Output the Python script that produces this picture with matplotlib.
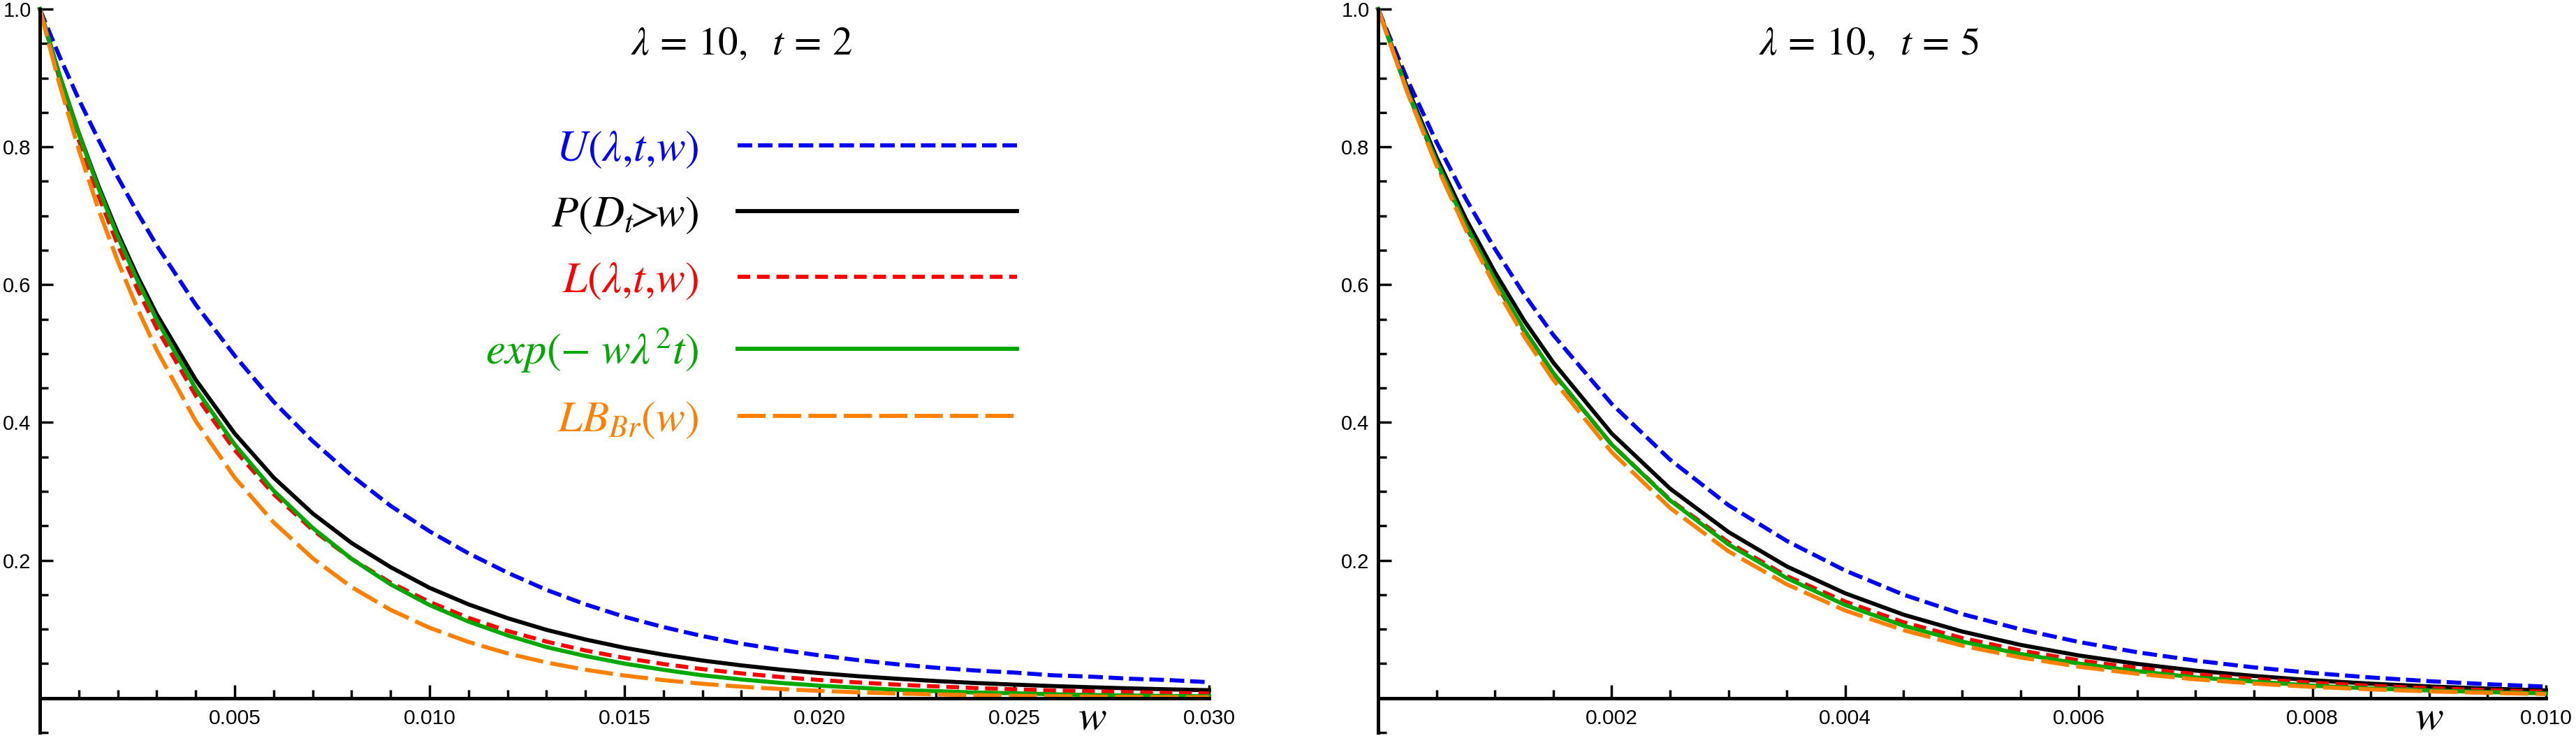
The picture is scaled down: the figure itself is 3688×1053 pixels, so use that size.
import numpy as np
import matplotlib
matplotlib.use('Agg')
import matplotlib.pyplot as plt
from matplotlib.ticker import FixedLocator, MultipleLocator, FuncFormatter

# values
w_left = [0, 0.0005, 0.001, 0.0015, 0.002, 0.0025, 0.003, 0.004, 0.005, 0.006,
          0.007, 0.008, 0.009, 0.010, 0.011, 0.012, 0.013, 0.014, 0.015, 0.016,
          0.017, 0.018, 0.019, 0.020, 0.021, 0.022, 0.023, 0.024, 0.025, 0.026,
          0.027, 0.028, 0.029, 0.030]
upper_left = [1.000, 0.932, 0.869, 0.811, 0.756, 0.705, 0.657, 0.571, 0.497, 0.430,
              0.373, 0.323, 0.279, 0.242, 0.210, 0.182, 0.157, 0.136, 0.118, 0.103,
              0.090, 0.079, 0.070, 0.062, 0.055, 0.049, 0.044, 0.040, 0.037, 0.033,
              0.031, 0.028, 0.026, 0.023]
exact_left = [1.000, 0.905, 0.820, 0.744, 0.675, 0.613, 0.557, 0.462, 0.384, 0.320,
              0.268, 0.225, 0.190, 0.160, 0.136, 0.116, 0.099, 0.085, 0.073, 0.063,
              0.0545, 0.0474, 0.0413, 0.0362, 0.0317, 0.0280, 0.0247, 0.0219, 0.0195, 0.0174,
              0.0156, 0.0140, 0.0126, 0.0114]
lower_left = [1.000, 0.900, 0.810, 0.730, 0.658, 0.594, 0.537, 0.439, 0.360, 0.296,
              0.244, 0.202, 0.1675, 0.1395, 0.1164, 0.0975, 0.0819, 0.0690, 0.0583, 0.0494,
              0.0420, 0.0358, 0.0306, 0.0262, 0.0226, 0.0195, 0.0169, 0.0146, 0.0127, 0.0111,
              0.0098, 0.0086, 0.0075, 0.0067]
expo_left = [1.000, 0.905, 0.819, 0.741, 0.670, 0.607, 0.549, 0.449, 0.368, 0.301,
             0.247, 0.202, 0.165, 0.135, 0.111, 0.091, 0.074, 0.061, 0.050, 0.041,
             0.033, 0.027, 0.022, 0.018, 0.015, 0.012, 0.010, 0.008, 0.007, 0.0055,
             0.0045, 0.0037, 0.0030, 0.0025]
lbbr_left = [1.000, 0.892, 0.796, 0.710, 0.634, 0.566, 0.505, 0.402, 0.320, 0.255,
             0.203, 0.161, 0.128, 0.102, 0.0814, 0.0648, 0.0516, 0.0411, 0.0327, 0.0260,
             0.0207, 0.0165, 0.0131, 0.0105, 0.0083, 0.0066, 0.0053, 0.0042, 0.0033, 0.0027,
             0.0021, 0.0017, 0.0013, 0.0011]

w_right = [0, 0.00025, 0.0005, 0.00075, 0.001, 0.00125, 0.0015, 0.002, 0.0025, 0.003,
           0.0035, 0.004, 0.0045, 0.005, 0.0055, 0.006, 0.0065, 0.007, 0.0075, 0.008,
           0.0085, 0.009, 0.0095, 0.010]
upper_right = [1.000, 0.898, 0.807, 0.725, 0.652, 0.586, 0.527, 0.427, 0.346, 0.280,
               0.228, 0.185, 0.150, 0.122, 0.0998, 0.0814, 0.0665, 0.0544, 0.0445, 0.0364,
               0.0299, 0.0245, 0.0201, 0.0166]
exact_right = [1.000, 0.886, 0.785, 0.696, 0.618, 0.548, 0.487, 0.384, 0.304, 0.241,
               0.191, 0.152, 0.121, 0.0966, 0.0772, 0.0618, 0.0496, 0.0398, 0.0321, 0.0258,
               0.0209, 0.0169, 0.0137, 0.0111]
lower_right = [1.000, 0.881, 0.776, 0.685, 0.604, 0.533, 0.471, 0.368, 0.288, 0.226,
               0.177, 0.140, 0.110, 0.0872, 0.0690, 0.0548, 0.0436, 0.0347, 0.0277, 0.0222,
               0.0178, 0.0143, 0.0115, 0.0093]
expo_right = [1.000, 0.882, 0.779, 0.687, 0.607, 0.535, 0.472, 0.368, 0.287, 0.223,
              0.174, 0.135, 0.105, 0.082, 0.064, 0.050, 0.039, 0.030, 0.024, 0.018,
              0.014, 0.011, 0.0087, 0.0067]
lbbr_right = [1.000, 0.879, 0.773, 0.680, 0.598, 0.525, 0.462, 0.357, 0.276, 0.213,
              0.165, 0.127, 0.0985, 0.0761, 0.0589, 0.0455, 0.0352, 0.0272, 0.0210, 0.0162,
              0.0126, 0.0097, 0.0075, 0.0058]

labels = [r'$U(\lambda{,}t{,}w)$', r'$P(D_t\!\!>\!\!w)$', r'$L(\lambda{,}t{,}w)$',
          r'$exp(-\ w\lambda^2t)$', r'$LB_{Br}(w)$']
colors = ['#0000ff', '#000000', '#ff0000', '#00a800', '#ff8000']
dashes = [(15, 6), None, (13, 7), None, (29, 7.5)]

plt.rcParams['mathtext.fontset'] = 'stix'
plt.rcParams['lines.scale_dashes'] = False
plt.rcParams['font.family'] = 'Liberation Sans'

fig = plt.figure(figsize=(36.88, 10.53), dpi=100)
ax1 = fig.add_axes([57 / 3688, 5 / 1053, 1674 / 3688, 1035 / 1053])
ax2 = fig.add_axes([1973 / 3688, 5 / 1053, 1672 / 3688, 1035 / 1053])


def draw(ax, w, series, xmax, major, minor):
    lines = []
    for ys, c, d, lab in zip(series, colors, dashes, labels):
        ln, = ax.plot(w, ys, color=c, lw=4.2, label=lab, clip_on=False)
        if d is not None:
            ln.set_dashes(d)
        lines.append(ln)
    ax.set_xlim(0, xmax)
    ax.set_ylim(-0.05, 1.0)
    ax.spines['top'].set_visible(False)
    ax.spines['right'].set_visible(False)
    ax.spines['bottom'].set_position(('data', 0))
    for s in ('left', 'bottom'):
        ax.spines[s].set_linewidth(3.6)
    ax.xaxis.set_major_locator(MultipleLocator(major))
    ax.xaxis.set_minor_locator(MultipleLocator(minor))
    ax.xaxis.set_major_formatter(FuncFormatter(lambda v, p: '' if abs(v) < 1e-9 else '%.3f' % v))
    ax.yaxis.set_major_locator(FixedLocator([0.2, 0.4, 0.6, 0.8, 1.0]))
    ax.yaxis.set_minor_locator(MultipleLocator(0.05))
    ax.yaxis.set_major_formatter(FuncFormatter(lambda v, p: '%.1f' % v))
    ax.tick_params(which='major', direction='in', length=14, width=2.5)
    ax.tick_params(which='minor', direction='in', length=8.5, width=2.5)
    ax.tick_params(axis='x', labelsize=21.6, pad=11)
    ax.tick_params(axis='y', labelsize=21, pad=9)
    ax.set_xlabel(r'$w$', fontsize=44)
    ax.xaxis.set_label_coords(0.90, 0.019)
    ax.xaxis.label.set_va('center')
    return lines


lines = draw(ax1, w_left, [upper_left, exact_left, lower_left, expo_left, lbbr_left], 0.030, 0.005, 0.001)
draw(ax2, w_right, [upper_right, exact_right, lower_right, expo_right, lbbr_right], 0.010, 0.002, 0.0005)

ax1.text(0.60, 0.952, r'$\lambda\,=\,10,\ \ t\,=\,2$', transform=ax1.transAxes,
         ha='center', va='center', fontsize=41)
ax2.text(0.42, 0.952, r'$\lambda\,=\,10,\ \ t\,=\,5$', transform=ax2.transAxes,
         ha='center', va='center', fontsize=41)

leg = ax1.legend(handles=lines, loc='upper right', bbox_to_anchor=(0.836, 0.835),
                 markerfirst=False, frameon=False, fontsize=45, handlelength=6.4,
                 handletextpad=0.9, labelspacing=0.56, borderpad=0, borderaxespad=0)
for txt, c in zip(leg.get_texts(), colors):
    txt.set_color(c)

fig.savefig('out.png', dpi=100)
